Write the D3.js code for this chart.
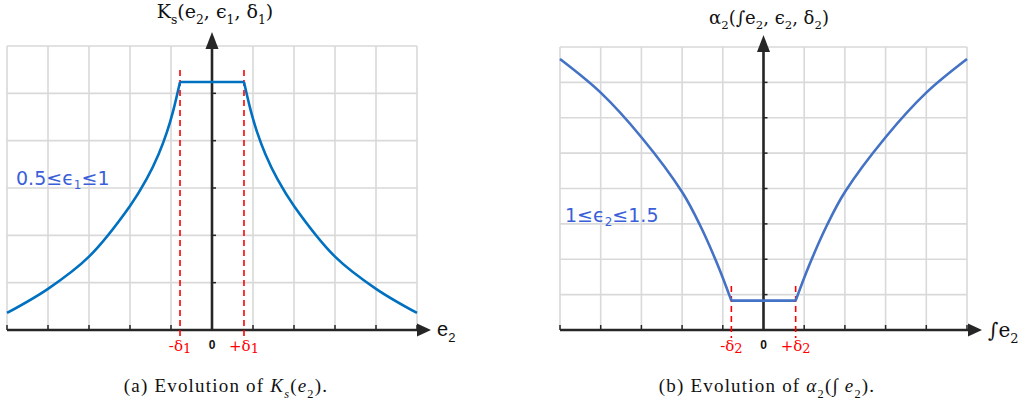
<!DOCTYPE html>
<html><head><meta charset="utf-8">
<script src="https://cdn.jsdelivr.net/npm/d3@7"></script>
<style>body{margin:0;background:#fff}svg{display:block}</style>
</head><body>
<svg id="c" width="1030" height="414"></svg>
<script>
// ---- data ----
const gridX = [-5,-4,-3,-2,-1,0,1,2,3,4,5];
const gridYLeft = [0,1,2,3,4,5,6];
const gridYRight = [0,1,2,3,4,5,6,7,8];
const delta1 = 0.78;
const delta2 = 0.79;
// Ks(e2): left branch (right branch is its mirror)
const ksBranchX = [-5,-4,-3,-2,-1.6,-1.3,-1.1,-0.95,-0.78];
const ksBranchY = [0.36,0.87,1.55,2.62,3.18,3.72,4.18,4.62,5.24];
const ksPlateau = 5.24;
// alpha2(∫e2): left branch (right branch is its mirror)
const alBranchX = [-5,-4,-3,-2,-1.55,-1.13,-0.79];
const alBranchY = [7.66,6.71,5.45,3.90,2.94,1.85,0.83];
const alPlateau = 0.83;
const labelLeft = ["0.5≤ϵ","1","≤1"];
const labelRight = ["1≤ϵ","2","≤1.5"];

const svg = d3.select("#c");
const gridCol = "#d9d9d9", axisCol = "#262626", red = "#ff0000";

function panel(o){
  const g = svg.append("g");
  const x = d3.scaleLinear().domain([-5,5]).range(o.xr);
  const y = d3.scaleLinear().domain([0,o.ymax]).range(o.yr);
  g.selectAll(".vg").data(gridX).join("line")
    .attr("x1",d=>x(d)).attr("x2",d=>x(d)).attr("y1",y(0)).attr("y2",y(o.ymax))
    .attr("stroke",gridCol).attr("stroke-width",1.6);
  g.selectAll(".hg").data(o.gridY.filter(d=>d>0)).join("line")
    .attr("x1",x(-5)).attr("x2",x(5)).attr("y1",d=>y(d)).attr("y2",d=>y(d))
    .attr("stroke",gridCol).attr("stroke-width",1.6);
  g.selectAll(".xt").data(gridX.filter(d=>d!==0)).join("line")
    .attr("x1",d=>x(d)).attr("x2",d=>x(d)).attr("y1",y(0)).attr("y2",y(0)-5)
    .attr("stroke",axisCol).attr("stroke-width",1.5);
  g.selectAll(".yt").data(o.gridY.filter(d=>d>0 && d<o.ymax)).join("line")
    .attr("x1",x(0)).attr("x2",x(0)+4).attr("y1",d=>y(d)).attr("y2",d=>y(d))
    .attr("stroke",axisCol).attr("stroke-width",1.5);
  const x0 = x(0), y0 = y(0);
  g.append("line").attr("x1",x(-5)).attr("x2",o.xTip-10).attr("y1",y0).attr("y2",y0)
    .attr("stroke",axisCol).attr("stroke-width",2.6);
  g.append("path").attr("d",`M${o.xTip},${y0} L${o.xTip-14},${y0-6.5} L${o.xTip-14},${y0+6.5}Z`).attr("fill",axisCol);
  g.append("line").attr("x1",x0).attr("x2",x0).attr("y1",y0).attr("y2",o.yTip+10)
    .attr("stroke",axisCol).attr("stroke-width",2.6);
  g.append("path").attr("d",`M${x0},${o.yTip} L${x0-6.5},${o.yTip+17} L${x0+6.5},${o.yTip+17}Z`).attr("fill",axisCol);
  [-o.delta,o.delta].forEach(d=>{
    g.append("line").attr("x1",x(d)).attr("x2",x(d)).attr("y1",o.dashTop).attr("y2",y0+8)
      .attr("stroke",red).attr("stroke-width",1.6).attr("stroke-dasharray","6,4");
  });
  const line = d3.line().x(d=>x(d[0])).y(d=>y(d[1])).curve(d3.curveCatmullRom.alpha(0.5));
  const left = o.bx.map((v,i)=>[v,o.by[i]]);
  const right = left.map(d=>[-d[0],d[1]]).reverse();
  [left,right].forEach(pts=>{
    g.append("path").attr("d",line(pts)).attr("fill","none").attr("stroke",o.col).attr("stroke-width",2.6);
  });
  g.append("path").attr("d",d3.line().x(d=>x(d[0])).y(d=>y(d[1]))([[-o.delta,o.plateau],[o.delta,o.plateau]]))
    .attr("fill","none").attr("stroke",o.col).attr("stroke-width",2.6);
  g.append("text").attr("x",x0).attr("y",y0+19).attr("text-anchor","middle")
    .attr("font-family","Liberation Sans, sans-serif").attr("font-weight","bold").attr("font-size",12).attr("fill","#111").text("0");
  [[-o.delta,"-δ"],[o.delta,"+δ"]].forEach(([d,t])=>{
    const tx = g.append("text").attr("x",x(d)).attr("y",y0+21).attr("text-anchor","middle")
      .attr("font-family","DejaVu Serif, serif").attr("font-size",15).attr("fill",red);
    tx.append("tspan").text(t);
    tx.append("tspan").attr("font-size",13).attr("dy",2).text(o.sub);
  });
  const lt = g.append("text").attr("x",o.lab[0]).attr("y",o.lab[1]).attr("font-family","DejaVu Sans, sans-serif")
    .attr("font-size",19).attr("fill","#3a5fd9");
  lt.append("tspan").text(o.labText[0]);
  lt.append("tspan").attr("font-size",12).attr("dy",4).text(o.labText[1]);
  lt.append("tspan").attr("dy",-4).text(o.labText[2]);
}

panel({xr:[7,417], yr:[330,46], ymax:6, gridY:gridYLeft, xTip:431, yTip:32, delta:delta1, dashTop:70,
  bx:ksBranchX, by:ksBranchY, plateau:ksPlateau, col:"#0070c0", sub:"1", lab:[16,185], labText:labelLeft});
panel({xr:[560,967], yr:[330,47], ymax:8, gridY:gridYRight, xTip:982, yTip:35, delta:delta2, dashTop:286,
  bx:alBranchX, by:alBranchY, plateau:alPlateau, col:"#4472c4", sub:"2", lab:[565,222], labText:labelRight});

function rich(x,y,parts,opts){
  const t = svg.append("text").attr("x",x).attr("y",y).attr("text-anchor",opts.anchor||"middle")
    .attr("font-family",opts.family).attr("font-size",opts.size).attr("fill","#111");
  if (opts.ls) t.attr("letter-spacing",opts.ls);
  let base = 0;
  parts.forEach(p=>{
    const s = t.append("tspan").text(p.t);
    const target = p.sub ? opts.size*0.3 : 0;
    if (target!==base){ s.attr("dy",target-base); base=target; }
    if (p.sub) s.attr("font-size",opts.size*0.65);
    if (p.it) s.attr("font-style","italic");
  });
}
const serif = "Liberation Serif, serif";
rich(215,18,[{t:"K"},{t:"s",sub:1},{t:"(e"},{t:"2",sub:1},{t:", ϵ"},{t:"1",sub:1},{t:", δ"},{t:"1",sub:1},{t:")"}],{family:"DejaVu Serif",size:19});
rich(769,24,[{t:"α"},{t:"2",sub:1},{t:"(∫e"},{t:"2",sub:1},{t:", ϵ"},{t:"2",sub:1},{t:", δ"},{t:"2",sub:1},{t:")"}],{family:"DejaVu Serif",size:18});
rich(437,336,[{t:"e"},{t:"2",sub:1}],{family:"Liberation Sans, sans-serif",size:20,anchor:"start"});
rich(988,337,[{t:"∫e"},{t:"2",sub:1}],{family:"DejaVu Serif",size:20,anchor:"start"});
rich(226,392,[{t:"(a) Evolution of "},{t:"K",it:1},{t:"s",sub:1,it:1},{t:"("},{t:"e",it:1},{t:"2",sub:1},{t:")."}],{family:serif,size:19,ls:1.2});
rich(767,392,[{t:"(b) Evolution of "},{t:"α",it:1},{t:"2",sub:1},{t:"(∫ "},{t:"e",it:1},{t:"2",sub:1},{t:")."}],{family:serif,size:19,ls:1.2});
</script>
</body></html>
